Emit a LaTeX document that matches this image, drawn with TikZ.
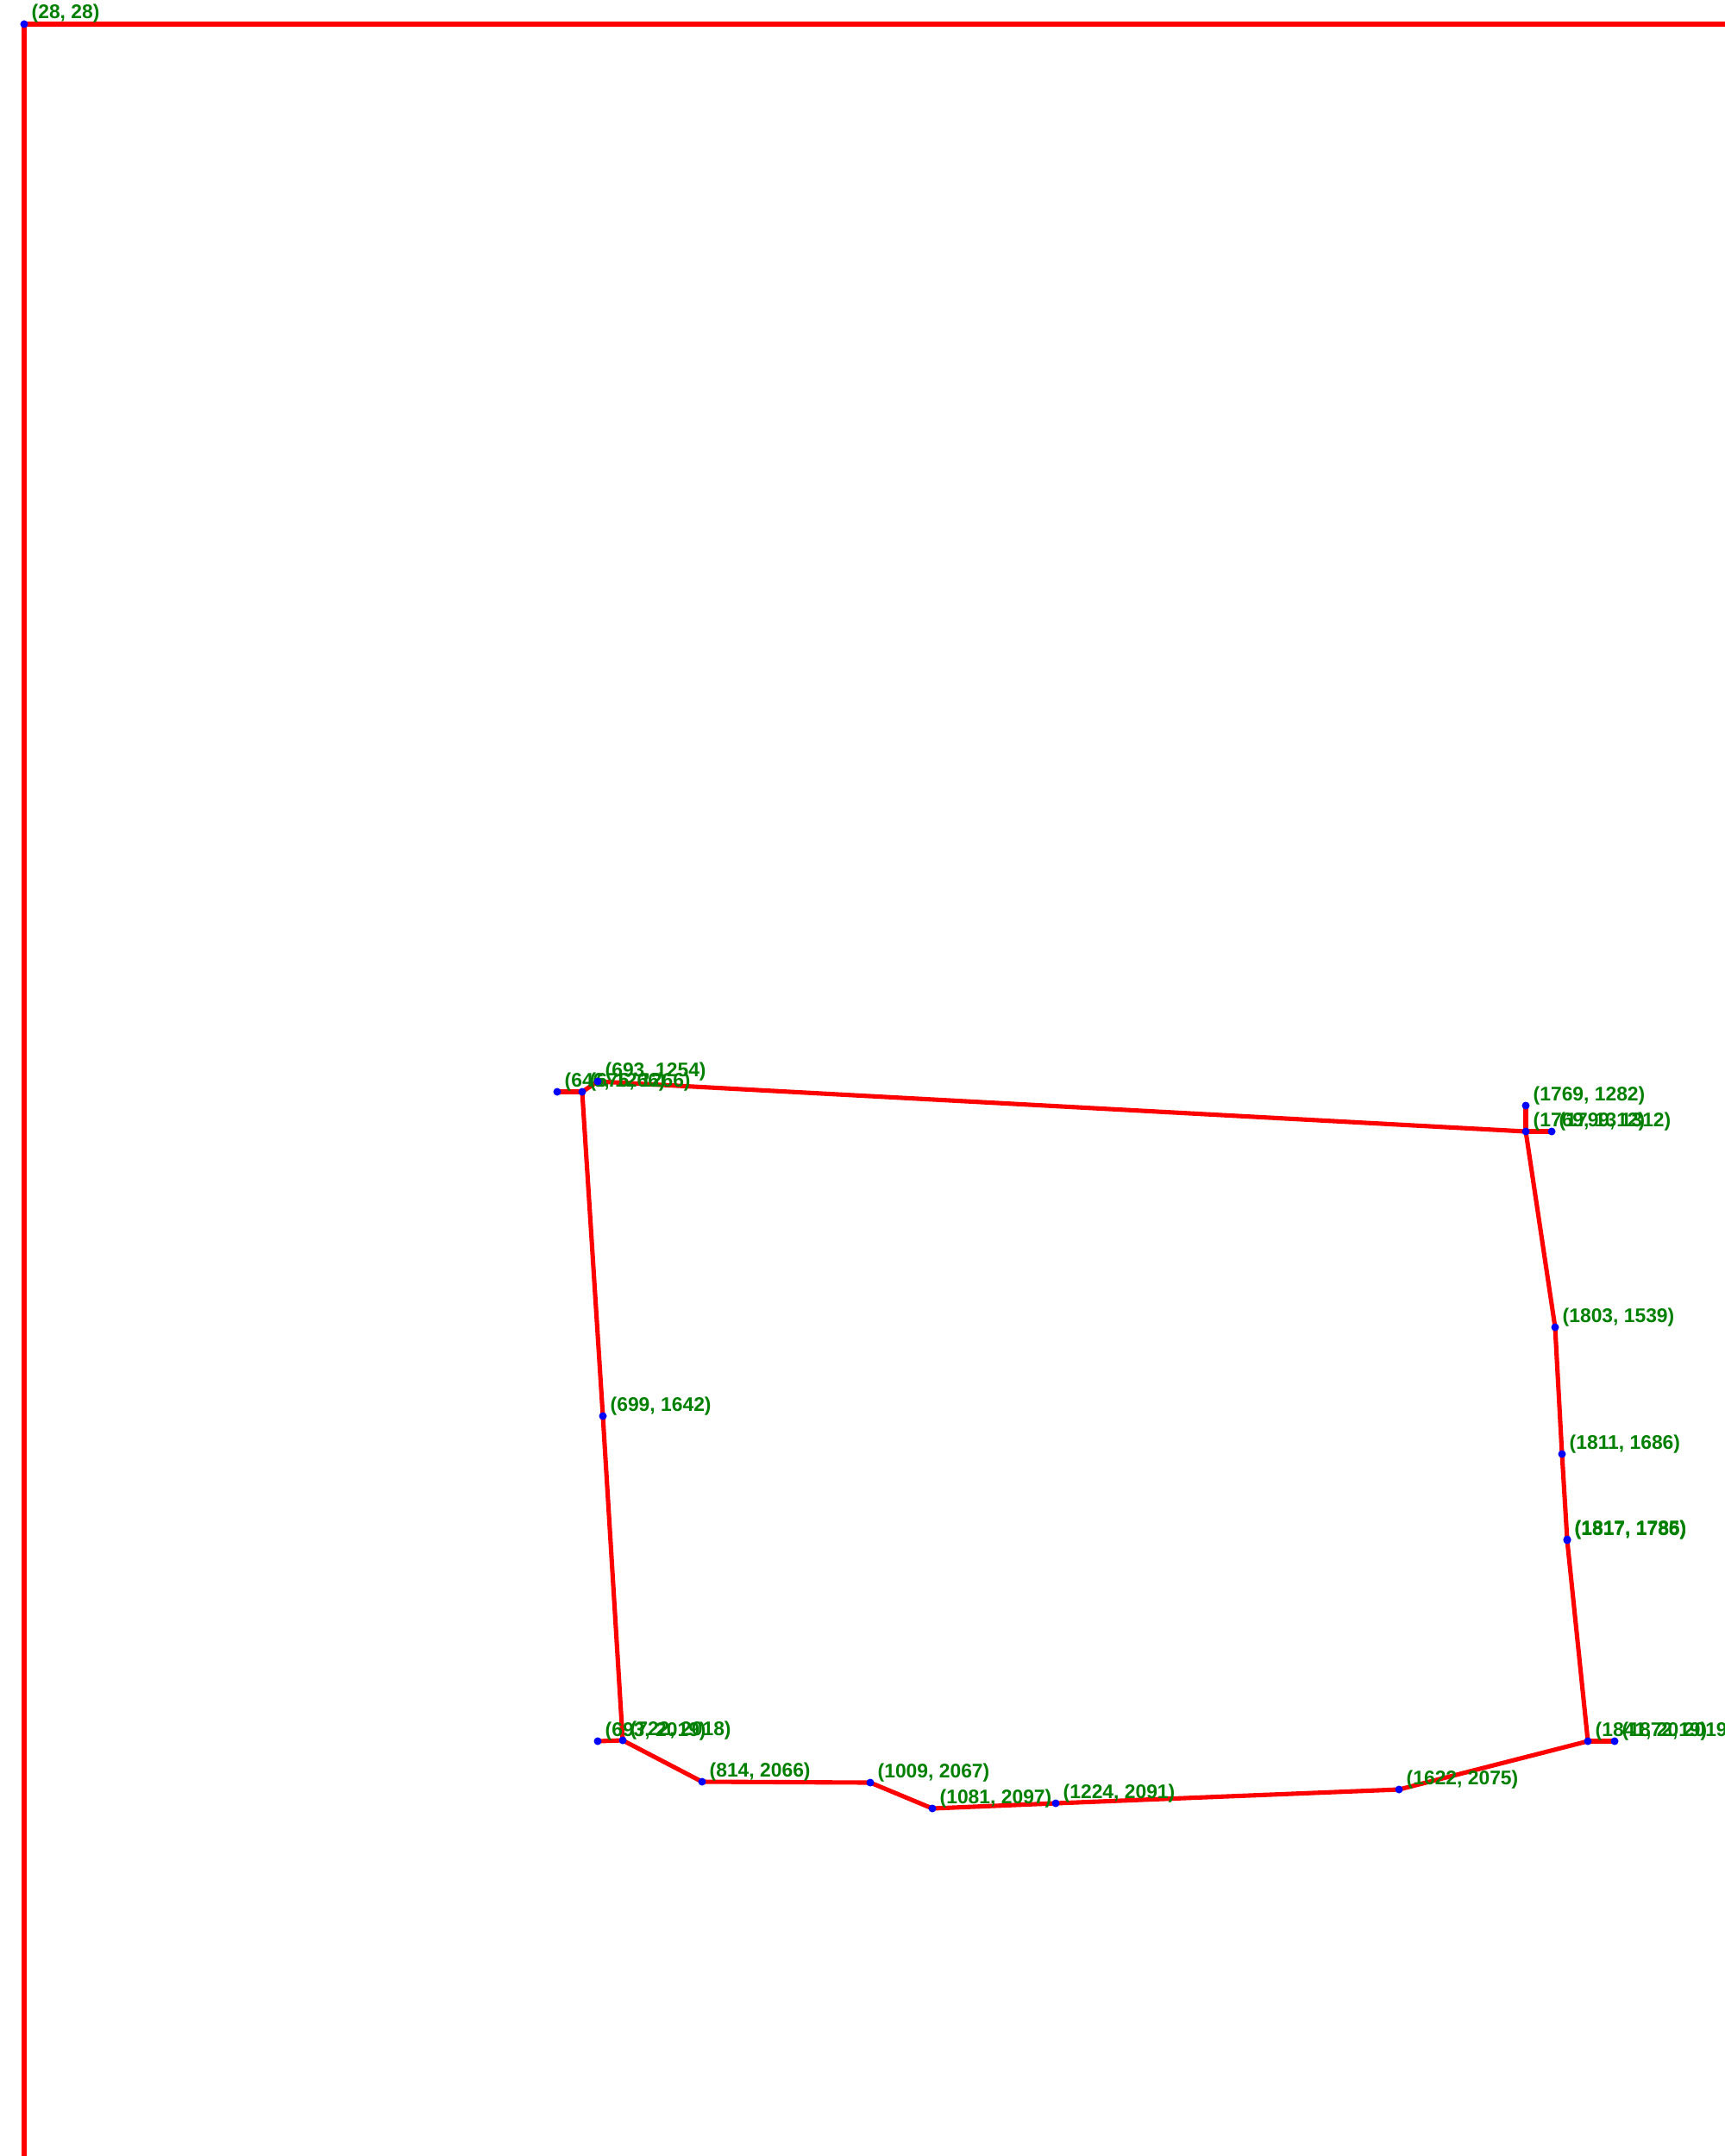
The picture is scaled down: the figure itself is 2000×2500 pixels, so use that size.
\documentclass[tikz,border=0pt]{standalone}
\usepackage{fontspec}
\setmainfont{Liberation Sans}
\usepackage{tikz}
\usetikzlibrary{positioning}
\definecolor{edgered}{RGB}{255,0,0}
\definecolor{vertexblue}{RGB}{0,0,255}
\definecolor{labelgreen}{RGB}{0,128,0}

\begin{document}
\begin{tikzpicture}[x=0.01cm, y=-0.01cm,
    edge/.style={edgered, line width=1.45pt, line join=round},
    vertex/.style={circle, fill=vertexblue, inner sep=0pt, minimum size=0.09cm},
    coordlabel/.style={anchor=base west, inner sep=0pt, text=labelgreen,
                       font=\fontsize{6.5pt}{8pt}\selectfont\bfseries}]
        \useasboundingbox (0,0) rectangle (2000,2500);

        % POINTS
        \foreach \n/\px/\py in {o/28/28, tlA/646/1266, tlB/675/1266, tlC/693/1254,
                                trA/1769/1282, trB/1769/1312, trC/1799/1312,
                                rA/1803/1539, rB/1811/1686, rC/1817/1785, rD/1817/1786,
                                brA/1841/2019, brB/1872/2019,
                                bA/1622/2075, bB/1224/2091, bC/1081/2097, bD/1009/2067, bE/814/2066,
                                blA/722/2018, blB/693/2019, lA/699/1642}
            \coordinate (\n) at (\px,\py);
        \coordinate (oR) at (2000,28);
        \coordinate (oB) at (28,2500);

        % FRAME
        \draw[edge] (oR) -- (o) -- (oB);

        % OUTLINE
        \draw[edge] (tlB) -- (tlC) -- (trB) -- (rA) -- (rB) -- (rC) -- (rD) -- (brA)
                    -- (bA) -- (bB) -- (bC) -- (bD) -- (bE) -- (blA) -- (lA) -- cycle;
        \draw[edge] (tlA) -- (tlB);
        \draw[edge] (trA) -- (trB) -- (trC);
        \draw[edge] (brA) -- (brB);
        \draw[edge] (blB) -- (blA);

        % VERTICES AND LABELS
        \foreach \n/\px/\py in {o/28/28, tlA/646/1266, tlB/675/1266, tlC/693/1254,
                                trA/1769/1282, trB/1769/1312, trC/1799/1312,
                                rA/1803/1539, rB/1811/1686, rC/1817/1785, rD/1817/1786,
                                brA/1841/2019, brB/1872/2019,
                                bA/1622/2075, bB/1224/2091, bC/1081/2097, bD/1009/2067, bE/814/2066,
                                blA/722/2018, blB/693/2019, lA/699/1642}
        {
            \node[vertex] (d\n) at (\n) {};
            \node[coordlabel] (l\n) at ([shift={(8,-6)}]\n) {(\px, \py)};
        }
\end{tikzpicture}
\end{document}
